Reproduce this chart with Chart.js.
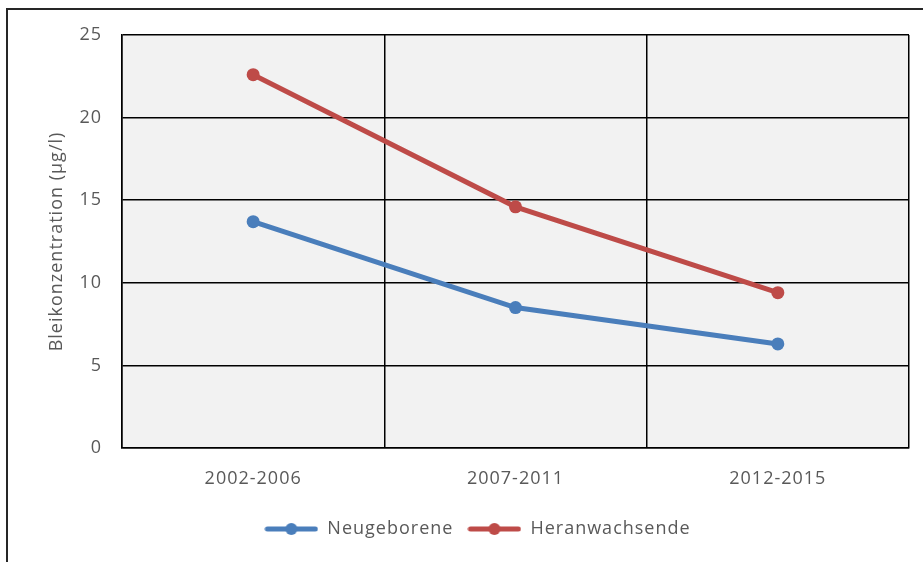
<!DOCTYPE html>
<html>
<head>
<meta charset="utf-8">
<script src="https://cdn.jsdelivr.net/npm/chart.js@4"></script>
<style>
  html, body { margin: 0; padding: 0; background: #fff; overflow: hidden; }
  #wrap { position: relative; width: 923px; height: 562px; }
  #frame { position: absolute; left: 6px; top: 8px; width: 940px; height: 580px; border: 2px solid #262626; box-sizing: border-box; pointer-events: none; }
  canvas { position: absolute; left: 0; top: 0; }
</style>
</head>
<body>
<div id="wrap">
  <canvas id="bleiChart" width="923" height="562"></canvas>
  <div id="frame"></div>
</div>
<script>
'use strict';

const periods = ['2002-2006', '2007-2011', '2012-2015'];
const neugeborene = [13.7, 8.5, 6.3];
const heranwachsende = [22.6, 14.6, 9.4];
const yTicks = [0, 5, 10, 15, 20, 25];

const blue = '#4a7ebb';
const red = '#be4b48';
const textColor = '#595959';
const fontFamily = '"Open Sans", "Liberation Sans", sans-serif';

// little legend marker: line with a dot in the middle
function legendMarker(color) {
  const c = document.createElement('canvas');
  c.width = 54;
  c.height = 14;
  const ctx = c.getContext('2d');
  ctx.strokeStyle = color;
  ctx.lineWidth = 5;
  ctx.lineCap = 'round';
  ctx.beginPath();
  ctx.moveTo(3, 7);
  ctx.lineTo(51, 7);
  ctx.stroke();
  ctx.fillStyle = color;
  ctx.beginPath();
  ctx.arc(27, 7, 6, 0, Math.PI * 2);
  ctx.fill();
  return c;
}

const plotBackground = {
  id: 'plotBackground',
  beforeDraw(chart) {
    const a = chart.chartArea;
    const ctx = chart.ctx;
    ctx.save();
    ctx.fillStyle = '#f2f2f2';
    ctx.fillRect(a.left, a.top, a.right - a.left, a.bottom - a.top);
    ctx.restore();
  }
};

// the original text is set a bit wide
const wideText = {
  id: 'wideText',
  beforeUpdate(chart) { chart.ctx.letterSpacing = '1px'; },
  beforeDraw(chart) { chart.ctx.letterSpacing = '1px'; }
};

const chartConfig = {
  type: 'line',
  data: {
    labels: periods,
    datasets: [{
      label: 'Neugeborene',
      data: neugeborene,
      borderColor: blue,
      backgroundColor: blue,
      borderWidth: 5,
      pointRadius: 6.5,
      pointBorderWidth: 0,
      pointStyle: 'circle',
      tension: 0
    },
    {
      label: 'Heranwachsende',
      data: heranwachsende,
      borderColor: red,
      backgroundColor: red,
      borderWidth: 5,
      pointRadius: 6.5,
      pointBorderWidth: 0,
      pointStyle: 'circle',
      tension: 0
    }]
  },
  options: {
    responsive: false,
    animation: false,
    layout: {
      padding: { left: 46, top: 35, right: 14, bottom: 14 }
    },
    plugins: {
      tooltip: { enabled: false },
      legend: {
        position: 'bottom',
        labels: {
          color: textColor,
          font: { family: fontFamily, size: 18 },
          usePointStyle: true,
          pointStyleWidth: 54,
          padding: 14,
          generateLabels(chart) {
            return chart.data.datasets.map((ds, i) => ({
              text: ds.label,
              fontColor: textColor,
              pointStyle: legendMarker(ds.borderColor),
              datasetIndex: i,
              lineWidth: 0,
              hidden: false
            }));
          }
        }
      }
    },
    scales: {
      x: {
        offset: true,
        grid: { offset: true, color: '#000', lineWidth: 1.5, drawTicks: false },
        border: { color: '#000', width: 1.5 },
        ticks: { color: textColor, font: { family: fontFamily, size: 18 }, padding: 20 },
        afterFit(scale) { scale.height = 58; }
      },
      y: {
        min: 0,
        max: 25,
        afterBuildTicks(scale) { scale.ticks = yTicks.map(v => ({ value: v })); },
        grid: { color: '#000', lineWidth: 1.5, drawTicks: false },
        border: { color: '#000', width: 1.5 },
        ticks: { color: textColor, font: { family: fontFamily, size: 18 }, padding: 20 },
        title: {
          display: true,
          text: 'Bleikonzentration (µg/l)',
          color: textColor,
          font: { family: fontFamily, size: 18 },
          padding: { top: 0, bottom: 8 }
        },
        afterFit(scale) { scale.width = 76; }
      }
    }
  },
  plugins: [wideText, plotBackground]
};

let canvasChart = document.getElementById('bleiChart').getContext('2d');
const myChart = new Chart(canvasChart, chartConfig);
</script>
</body>
</html>
